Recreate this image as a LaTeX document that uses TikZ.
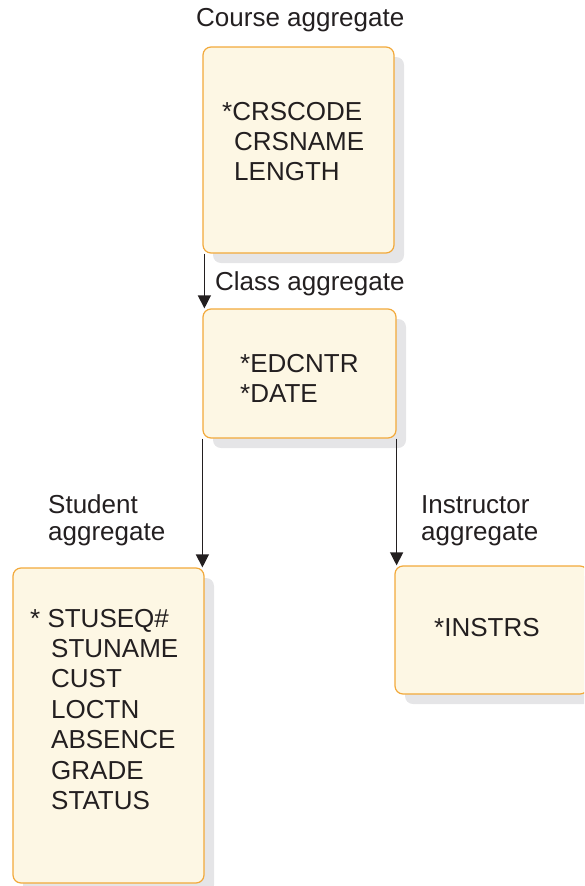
\documentclass[tikz,border=0pt]{standalone}
\usepackage{fontspec}
\setmainfont{Liberation Sans}
\usetikzlibrary{arrows.meta,shadows}
\definecolor{boxfill}{HTML}{FDF7E4}
\definecolor{boxline}{HTML}{F2A93B}
\definecolor{shadowgray}{HTML}{E5E5E7}
\definecolor{ink}{HTML}{231F20}

\begin{document}
\begin{tikzpicture}[x=1pt,y=-1pt,
   font=\fontsize{26}{30}\selectfont, text=ink,
   aggbox/.style={draw=boxline,fill=boxfill,line width=1.2pt,rounded corners=8pt,inner sep=0pt,
      drop shadow={shadow xshift=10pt,shadow yshift=-10pt,fill=shadowgray,opacity=1}},
   field/.style={anchor=base west,inner sep=0pt},
   link/.style={draw=ink,line width=1.2pt,-{Triangle[length=13pt,width=13pt]}}]
   \useasboundingbox (0,0) rectangle (584,886);
   \clip (0,0) rectangle (584,886);
   % aggregates
   \node[aggbox,minimum width=191pt,minimum height=206pt] (course) at (298.5,150) {};
   \node[aggbox,minimum width=193pt,minimum height=129pt] (class) at (299.5,373.5) {};
   \node[aggbox,minimum width=191pt,minimum height=315pt] (student) at (108.5,725.5) {};
   \node[aggbox,minimum width=193pt,minimum height=128pt] (instr) at (491.5,630) {};
   % captions
   \node[field] (coursecap) at (196,27) {Course aggregate};
   \node[field] (classcap) at (215,290) {Class aggregate};
   \node[field] (stucap) at (48,513) {Student};
   \node[field] (stucapb) at (48,540) {aggregate};
   \node[field] (inscap) at (421,513) {Instructor};
   \node[field] (inscapb) at (421,540) {aggregate};
   % fields
   \node[field] (crscode) at (222,120) {*CRSCODE};
   \node[field] (crsname) at (234,150) {CRSNAME};
   \node[field] (crslen) at (234,180) {LENGTH};
   \node[field] (edcntr) at (240,372) {*EDCNTR};
   \node[field] (cdate) at (240,402) {*DATE};
   \node[field] (stuseq) at (30,627) {* STUSEQ\#};
   \foreach \f [count=\i] in {STUNAME,CUST,LOCTN,ABSENCE,GRADE,STATUS}
      \node[field] (stu\i) at (51,{627+30.4*\i}) {\f};
   \node[field] (instrs) at (434,636) {*INSTRS};
   % links
   \draw[link] ([xshift=2pt]course.south west) -- ([xshift=2pt]class.north west);
   \draw[link] (class.south west) -- (class.south west |- student.north);
   \draw[link] (class.south east) -- (class.south east |- instr.north);
\end{tikzpicture}
\end{document}
